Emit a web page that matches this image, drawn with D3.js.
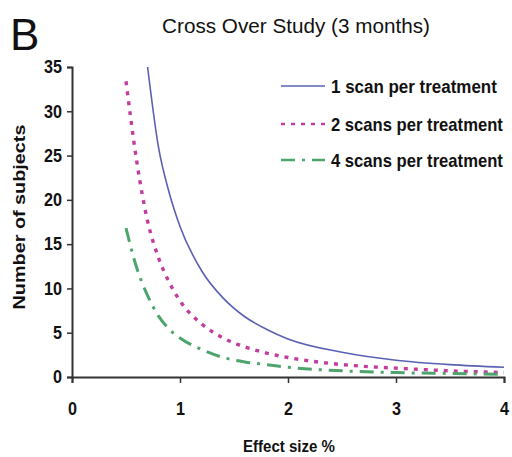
<!DOCTYPE html>
<html>
<head>
<meta charset="utf-8">
<script src="https://cdn.jsdelivr.net/npm/d3@7"></script>
<style>
  body { margin: 0; background: #fff; }
  text { font-family: "Liberation Sans", Arial, sans-serif; fill: #111; }
</style>
</head>
<body>
<div id="chart"></div>
<script>
// effect size (%) and number of subjects
var effect1 = [0.7, 0.8, 0.9, 1, 1.2, 1.4, 1.6, 1.8, 2, 2.5, 3, 3.5, 4];
var subjects1 = [35, 26, 20.8, 17, 12, 8.9, 6.8, 5.4, 4.3, 2.8, 1.9, 1.4, 1.1];
var effect2 = [0.5, 0.6, 0.7, 0.8, 0.9, 1, 1.2, 1.4, 1.6, 1.8, 2, 2.5, 3, 3.5, 4];
var subjects2 = [33.4, 24.3, 17.6, 13.5, 10.7, 8.6, 6, 4.4, 3.4, 2.7, 2.2, 1.4, 1, 0.7, 0.5];
var effect4 = [0.5, 0.6, 0.7, 0.8, 0.9, 1, 1.2, 1.4, 1.6, 1.8, 2, 2.5, 3, 3.5, 4];
var subjects4 = [16.8, 12.3, 9.2, 6.9, 5.4, 4.4, 3.1, 2.2, 1.7, 1.4, 1.1, 0.7, 0.5, 0.4, 0.3];
var seriesNames = ["1 scan per treatment", "2 scans per treatment", "4 scans per treatment"];
var xTicks = [0, 1, 2, 3, 4];
var yTicks = [0, 5, 10, 15, 20, 25, 30, 35];

var width = 512, height = 457;
var svg = d3.select("#chart").append("svg")
	.attr("width", width)
	.attr("height", height);

var x = d3.scaleLinear().domain([0, 4]).range([72, 504]);
var y = d3.scaleLinear().domain([0, 35]).range([377, 67]);

var styles = [
	{ color: "#5a61b4", width: 1.6, dash: null },
	{ color: "#c23d9d", width: 3.4, dash: "4,6" },
	{ color: "#4da56d", width: 3, dash: "14,7,3,7" }
];

var series = [
	effect1.map(function(d, i) { return [d, subjects1[i]]; }),
	effect2.map(function(d, i) { return [d, subjects2[i]]; }),
	effect4.map(function(d, i) { return [d, subjects4[i]]; })
];

// squeeze a text horizontally so it is w px wide (the reference font is a narrow one)
function narrowText(g, w) {
	var t = g.select("text");
	var len = t.node().getComputedTextLength();
	g.attr("transform", g.attr("transform") + " scale(" + (w / len) + ",1)");
}

// axes
var yAxis = svg.append("g")
	.attr("transform", "translate(" + x(0) + ",0)")
	.call(d3.axisLeft(y).tickValues(yTicks).tickFormat(d3.format("d")).tickSize(5).tickPadding(5));
var xAxis = svg.append("g")
	.attr("transform", "translate(0," + y(0) + ")")
	.call(d3.axisBottom(x).tickValues(xTicks).tickFormat(d3.format("d")).tickSize(6).tickPadding(19));

[xAxis, yAxis].forEach(function(ax) {
	ax.select(".domain").attr("stroke", "#333").attr("stroke-width", 2);
	ax.selectAll(".tick line").attr("stroke", "#333").attr("stroke-width", 1.5);
	ax.selectAll(".tick text")
		.style("font-family", "'Liberation Sans', Arial, sans-serif")
		.style("font-size", "18px")
		.style("font-weight", "bold")
		.attr("fill", "#111")
		.attr("textLength", function(d) { return String(d).length * 9; })
		.attr("lengthAdjust", "spacingAndGlyphs");
});

// curves
var line = d3.line()
	.x(function(d) { return x(d[0]); })
	.y(function(d) { return y(d[1]); })
	.curve(d3.curveMonotoneX);

series.forEach(function(s, i) {
	svg.append("path")
		.datum(s)
		.attr("d", line)
		.attr("fill", "none")
		.attr("stroke", styles[i].color)
		.attr("stroke-width", styles[i].width)
		.attr("stroke-dasharray", styles[i].dash);
});

// legend
var legendY = [86, 124, 160];
var legendLen = [166, 172, 172];
seriesNames.forEach(function(name, i) {
	svg.append("line")
		.attr("x1", 281).attr("x2", 325)
		.attr("y1", legendY[i]).attr("y2", legendY[i])
		.attr("stroke", styles[i].color)
		.attr("stroke-width", i === 0 ? 1.6 : 2.6)
		.attr("stroke-dasharray", styles[i].dash);
	var g = svg.append("g")
		.attr("transform", "translate(331," + (legendY[i] + 7) + ")");
	g.append("text")
		.style("font-size", "19px")
		.style("font-weight", "bold")
		.text(name);
	narrowText(g, legendLen[i]);
});

// titles
svg.append("text")
	.attr("x", 10).attr("y", 50)
	.style("font-size", "44px")
	.text("B");

var title = svg.append("g").attr("transform", "translate(296,33)");
title.append("text")
	.attr("text-anchor", "middle")
	.style("font-size", "20px")
	.text("Cross Over Study (3 months)");
narrowText(title, 268);

var xTitle = svg.append("g").attr("transform", "translate(289,452)");
xTitle.append("text")
	.attr("text-anchor", "middle")
	.style("font-size", "17px")
	.style("font-weight", "bold")
	.text("Effect size %");
narrowText(xTitle, 92);

var yTitle = svg.append("g").attr("transform", "translate(25,217) rotate(-90)");
yTitle.append("text")
	.attr("text-anchor", "middle")
	.style("font-size", "17px")
	.style("font-weight", "bold")
	.text("Number of subjects");
narrowText(yTitle, 185);
</script>
</body>
</html>
